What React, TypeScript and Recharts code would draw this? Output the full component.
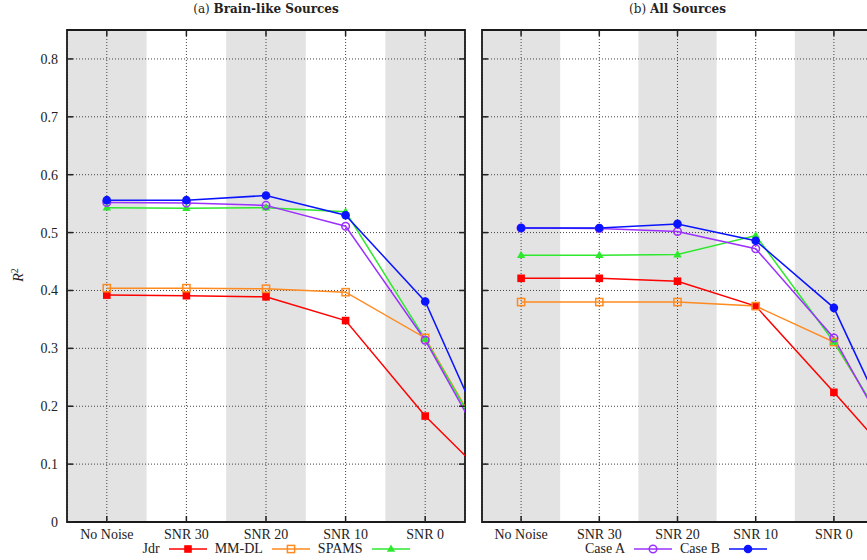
import React from 'react';
import { LineChart, Line, XAxis, YAxis, CartesianGrid, ReferenceArea } from 'recharts';

const categories = ['No Noise', 'SNR 30', 'SNR 20', 'SNR 10', 'SNR 0'];
const yTicks = [0, 0.1, 0.2, 0.3, 0.4, 0.5, 0.6, 0.7, 0.8];
const bandStarts = [-0.5, 1.5, 3.5];

// (a) Brain-like Sources -- the 6th value sits past the frame, only its clipped line end shows
const aJdr = [0.392, 0.391, 0.389, 0.348, 0.183, 0.047];
const aMmdl = [0.404, 0.404, 0.403, 0.397, 0.318, 0.08];
const aSpams = [0.543, 0.542, 0.543, 0.536, 0.316, 0.078];
const aCaseA = [0.552, 0.551, 0.547, 0.511, 0.314, 0.068];
const aCaseB = [0.556, 0.556, 0.564, 0.53, 0.381, 0.073];

// (b) All Sources
const bJdr = [0.421, 0.421, 0.416, 0.373, 0.224, 0.072];
const bMmdl = [0.38, 0.38, 0.38, 0.373, 0.311, 0.09];
const bSpams = [0.461, 0.461, 0.462, 0.495, 0.311, 0.092];
const bCaseA = [0.508, 0.507, 0.502, 0.472, 0.318, 0.075];
const bCaseB = [0.508, 0.508, 0.515, 0.486, 0.37, 0.08];

type Marker = 'square' | 'openSquare' | 'triangle' | 'openCircle' | 'circle';

const series: { key: string; name: string; color: string; marker: Marker }[] = [
    { key: 'jdr', name: 'Jdr', color: '#ff0000', marker: 'square' },
    { key: 'mmdl', name: 'MM-DL', color: '#ff8a1f', marker: 'openSquare' },
    { key: 'spams', name: 'SPAMS', color: '#2ee82e', marker: 'triangle' },
    { key: 'caseA', name: 'Case A', color: '#9b30ff', marker: 'openCircle' },
    { key: 'caseB', name: 'Case B', color: '#0a14ff', marker: 'circle' },
];

const buildRows = (jdr: number[], mmdl: number[], spams: number[], caseA: number[], caseB: number[]) =>
    jdr.map((_, i) => ({ x: i, jdr: jdr[i], mmdl: mmdl[i], spams: spams[i], caseA: caseA[i], caseB: caseB[i] }));

const dataA = buildRows(aJdr, aMmdl, aSpams, aCaseA, aCaseB);
const dataB = buildRows(bJdr, bMmdl, bSpams, bCaseA, bCaseB);

const FONT = '"Liberation Serif", "DejaVu Serif", serif';
const TITLE_FONT = '"DejaVu Serif", serif';

function markerShape(marker: Marker, color: string, cx: number, cy: number, key?: string) {
    switch (marker) {
        case 'square':
            return <rect key={key} x={cx - 3.8} y={cy - 3.8} width={7.6} height={7.6} fill={color} />;
        case 'openSquare':
            return <rect key={key} x={cx - 3.6} y={cy - 3.6} width={7.2} height={7.2} fill="none" stroke={color} strokeWidth={1.5} />;
        case 'triangle':
            return <polygon key={key} points={`${cx},${cy - 4.5} ${cx + 4.2},${cy + 2.8} ${cx - 4.2},${cy + 2.8}`} fill={color} />;
        case 'openCircle':
            return <circle key={key} cx={cx} cy={cy} r={3.8} fill="none" stroke={color} strokeWidth={1.5} />;
        default:
            return <circle key={key} cx={cx} cy={cy} r={4.3} fill={color} />;
    }
}

const noTick = () => <g />;

function Panel({ data, width, showYLabels, marginRight, yAxisWidth }: {
    data: any[]; width: number; showYLabels: boolean; marginRight: number; yAxisWidth: number;
}) {
    return (
        <LineChart width={width} height={560} data={data} margin={{ top: 29, right: marginRight, left: 0, bottom: 18 }}>
            {bandStarts.map((b) => (
                <ReferenceArea key={b} x1={b} x2={b + 1} y1={0} y2={0.85} fill="#e3e3e3" fillOpacity={1} stroke="none" zIndex={-200} ifOverflow="visible" />
            ))}
            <CartesianGrid stroke="#444" strokeDasharray="1 2" strokeWidth={1} />
            <XAxis
                dataKey="x"
                type="number"
                domain={[-0.5, 4.5]}
                ticks={[0, 1, 2, 3, 4]}
                allowDataOverflow
                height={20}
                axisLine={false}
                tickSize={-6}
                tickMargin={13}
                tickLine={{ stroke: '#222', strokeWidth: 1.5 }}
                tickFormatter={(v) => categories[v] ?? ''}
                tick={{ fill: '#222', fontSize: 14, fontFamily: FONT }}
            />
            <XAxis xAxisId="top" orientation="top" dataKey="x" type="number" domain={[-0.5, 4.5]} ticks={[0, 1, 2, 3, 4]} allowDataOverflow height={1} axisLine={false} tickSize={-6} tickLine={{ stroke: '#222', strokeWidth: 1.5 }} tick={noTick} />
            <YAxis
                domain={[0, 0.85]}
                ticks={yTicks}
                allowDataOverflow
                width={yAxisWidth}
                axisLine={false}
                tickSize={-6}
                tickMargin={15}
                tickLine={{ stroke: '#222', strokeWidth: 1.5 }}
                tickFormatter={(v) => String(v)}
                tick={showYLabels ? { fill: '#222', fontSize: 14, fontFamily: FONT } : noTick}
            />
            <YAxis yAxisId="right" orientation="right" domain={[0, 0.85]} ticks={yTicks} allowDataOverflow width={1} axisLine={false} tickSize={-6} tickLine={{ stroke: '#222', strokeWidth: 1.5 }} tick={noTick} />
            {series.map((s) => (
                <Line
                    key={s.key}
                    dataKey={s.key}
                    stroke={s.color}
                    strokeWidth={1.5}
                    isAnimationActive={false}
                    dot={(p: any) => markerShape(s.marker, s.color, p.cx, p.cy, `${s.key}-${p.index}`)}
                    activeDot={false}
                />
            ))}
            <ReferenceArea x1={-0.5} x2={4.5} y1={0} y2={0.85} fill="none" stroke="#1a1a1a" strokeWidth={1.8} ifOverflow="visible" />
        </LineChart>
    );
}

function LegendRow({ items }: { items: typeof series }) {
    return (
        <div style={{ display: 'flex', alignItems: 'center', justifyContent: 'center', fontFamily: FONT, fontSize: 14, color: '#222' }}>
            {items.map((s, i) => (
                <div key={s.key} style={{ display: 'flex', alignItems: 'center', marginLeft: i === 0 ? 0 : 8 }}>
                    <span style={{ marginRight: 9 }}>{s.name}</span>
                    <svg width={38} height={10}>
                        <line x1={0} y1={5} x2={38} y2={5} stroke={s.color} strokeWidth={1.5} />
                        {markerShape(s.marker, s.color, 19, 5)}
                    </svg>
                </div>
            ))}
        </div>
    );
}

export default function App() {
    return (
        <div style={{ position: 'fixed', left: 0, top: 0, width: 867, height: 560, overflow: 'hidden', background: '#fff', fontFamily: FONT, color: '#222' }}>
            <div style={{ position: 'absolute', left: 67, width: 398, top: 2, textAlign: 'center', fontSize: 12, fontFamily: TITLE_FONT }}>
                (a) <b>Brain-like Sources</b>
            </div>
            <div style={{ position: 'absolute', left: 482, width: 391, top: 2, textAlign: 'center', fontSize: 12, fontFamily: TITLE_FONT }}>
                (b) <b>All Sources</b>
            </div>
            <div style={{ position: 'absolute', left: 18, top: 275, transform: 'translate(-50%, -50%) rotate(-90deg)', fontSize: 14, whiteSpace: 'nowrap' }}>
                <i>R</i><sup style={{ fontSize: 10 }}>2</sup>
            </div>
            <div style={{ position: 'absolute', left: 0, top: 0 }}>
                <Panel data={dataA} width={471} showYLabels marginRight={5} yAxisWidth={67} />
            </div>
            <div style={{ position: 'absolute', left: 470, top: 0 }}>
                <Panel data={dataB} width={421} showYLabels={false} marginRight={17} yAxisWidth={12} />
            </div>
            <div style={{ position: 'absolute', left: 77, width: 398, top: 541 }}>
                <LegendRow items={series.slice(0, 3)} />
            </div>
            <div style={{ position: 'absolute', left: 482, width: 388, top: 541 }}>
                <LegendRow items={series.slice(3)} />
            </div>
        </div>
    );
}
